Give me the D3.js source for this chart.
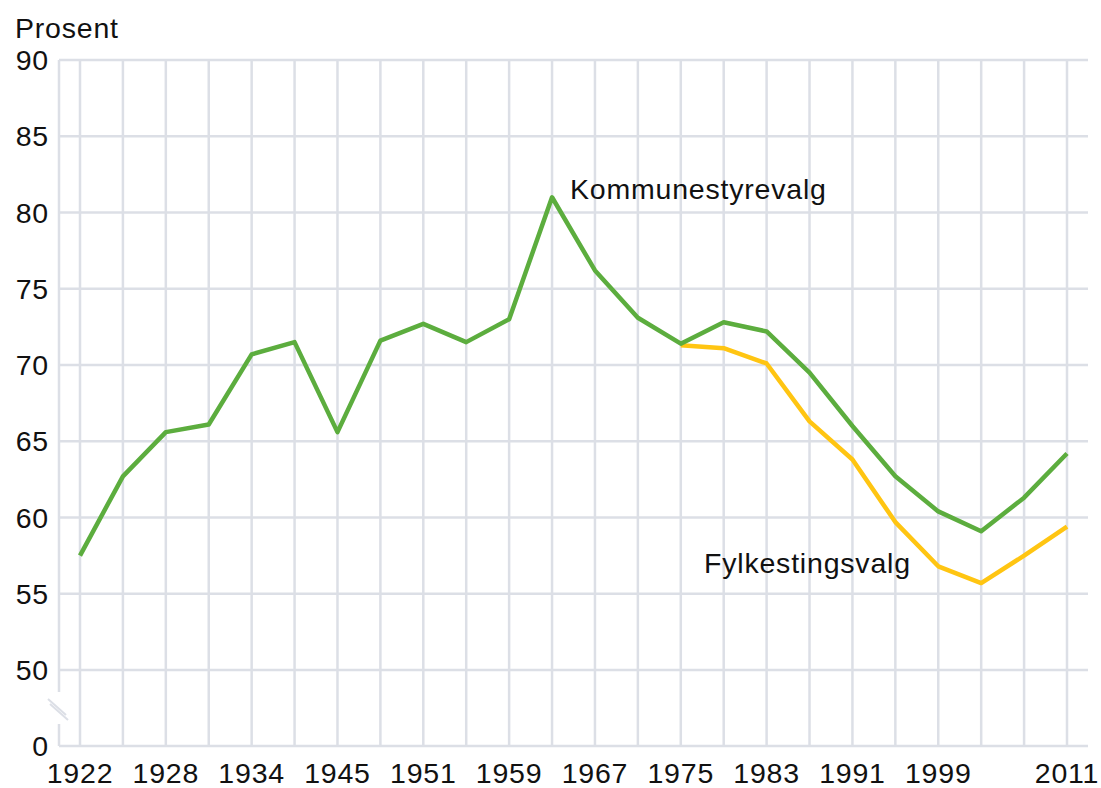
<!DOCTYPE html>
<html><head><meta charset="utf-8">
<script src="https://cdn.jsdelivr.net/npm/d3@7"></script>
<style>
body{margin:0;background:#fff;}
svg{display:block;font-family:"Liberation Sans",Arial,Helvetica,sans-serif;}
</style></head>
<body><svg id="c" width="1101" height="788"></svg>
<script>
const years = [1922,1925,1928,1931,1934,1937,1945,1947,1951,1955,1959,1963,1967,1971,1975,1979,1983,1987,1991,1995,1999,2003,2007,2011];
const kommune = [57.5,62.7,65.6,66.1,70.7,71.5,65.6,71.6,72.7,71.5,73.0,81.0,76.2,73.1,71.4,72.8,72.2,69.5,66.0,62.7,60.4,59.1,61.3,64.2];
const fylke = [null,null,null,null,null,null,null,null,null,null,null,null,null,null,71.3,71.1,70.1,66.3,63.8,59.7,56.8,55.7,57.5,59.4];
const yTicks = [0,50,55,60,65,70,75,80,85,90];
const xLabels = ["1922","1928","1934","1945","1951","1959","1967","1975","1983","1991","1999","2011"];
const yTitle = "Prosent";
const seriesNames = ["Kommunestyrevalg","Fylkestingsvalg"];

const svg = d3.select("#c");
const x = d3.scalePoint().domain(years.map(String)).range([80,1067]);
const y = d3.scaleLinear().domain([0,50,90]).range([746,670,60]);
const right = 1088;
const grid = "#dcdfe6";
const fs = 28.5;
const ls = 0.8;
const txt = "#111";

svg.append("g").selectAll("line").data(yTicks).join("line")
  .attr("x1",59).attr("x2",right).attr("y1",d=>y(d)).attr("y2",d=>y(d))
  .attr("stroke",grid).attr("stroke-width",2.5);
svg.append("g").selectAll("line").data(years).join("line")
  .attr("x1",d=>x(String(d))).attr("x2",d=>x(String(d))).attr("y1",y(90)).attr("y2",y(0))
  .attr("stroke",grid).attr("stroke-width",2.5);
svg.append("line").attr("x1",59).attr("x2",59).attr("y1",y(90)).attr("y2",692).attr("stroke",grid).attr("stroke-width",2.5);
svg.append("line").attr("x1",59).attr("x2",59).attr("y1",724).attr("y2",y(0)).attr("stroke",grid).attr("stroke-width",2.5);
svg.append("line").attr("x1",48).attr("y1",699).attr("x2",66).attr("y2",715).attr("stroke",grid).attr("stroke-width",2);
svg.append("line").attr("x1",50).attr("y1",704).attr("x2",68).attr("y2",720).attr("stroke",grid).attr("stroke-width",2);

svg.append("g").selectAll("text").data(yTicks).join("text")
  .attr("x",49).attr("y",d=>y(d)+10).attr("text-anchor","end")
  .attr("font-size",fs).attr("letter-spacing",ls).attr("fill",txt).text(d=>d);
svg.append("text").attr("x",15).attr("y",38).attr("font-size",fs).attr("letter-spacing",ls).attr("fill",txt).text(yTitle);
svg.append("g").selectAll("text").data(xLabels).join("text")
  .attr("x",d=>x(d)).attr("y",783).attr("text-anchor","middle")
  .attr("font-size",fs).attr("letter-spacing",ls).attr("fill",txt).text(d=>d);

const line = d3.line().defined(d=>d[1]!=null).x(d=>x(String(d[0]))).y(d=>y(d[1]));
svg.append("path").datum(years.map((yr,i)=>[yr,fylke[i]]))
  .attr("d",line).attr("fill","none").attr("stroke","#ffc512").attr("stroke-width",4.5).attr("stroke-linejoin","round");
svg.append("path").datum(years.map((yr,i)=>[yr,kommune[i]]))
  .attr("d",line).attr("fill","none").attr("stroke","#5cad3e").attr("stroke-width",4.5).attr("stroke-linejoin","round");

svg.append("text").attr("x",570).attr("y",199).attr("font-size",fs).attr("letter-spacing",ls).attr("fill",txt).text(seriesNames[0]);
svg.append("text").attr("x",704).attr("y",573).attr("font-size",fs).attr("letter-spacing",ls).attr("fill",txt).text(seriesNames[1]);
</script></body></html>
